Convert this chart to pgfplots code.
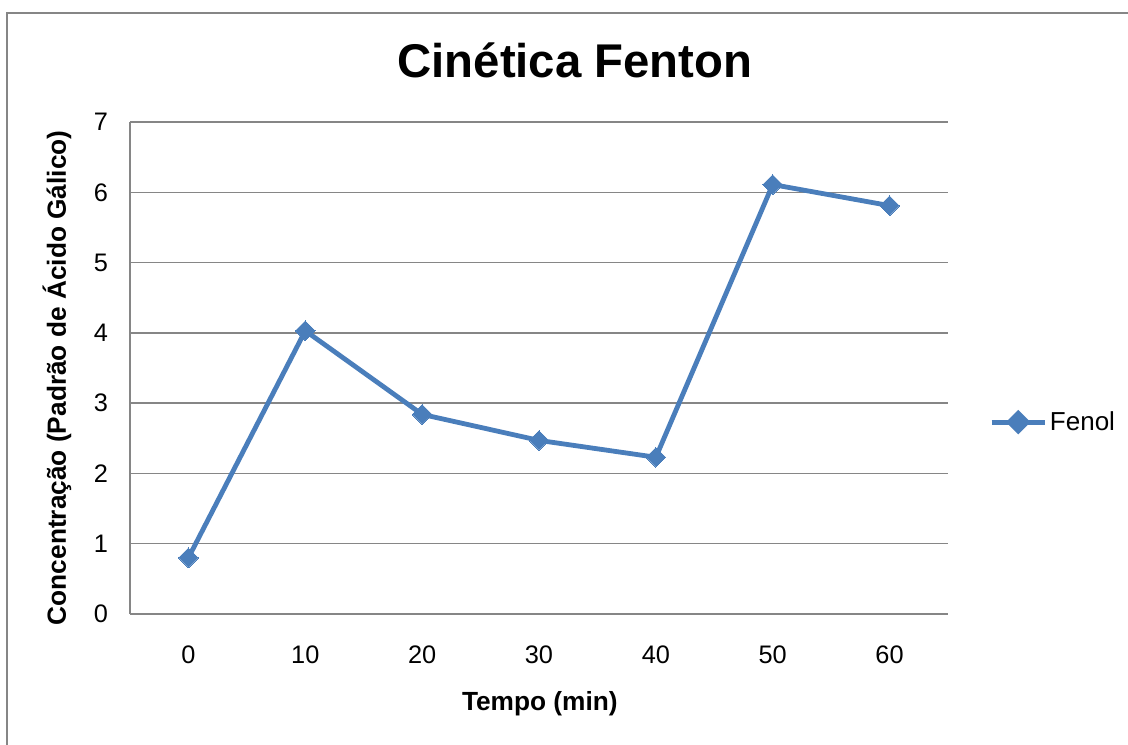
\documentclass[border=0pt]{standalone}
\usepackage{pgfplots}
\pgfplotsset{compat=1.18}
\usepackage{fontspec}
\setmainfont{Liberation Sans}
\definecolor{serie}{HTML}{4A7EBB}
\definecolor{grade}{HTML}{868686}
\begin{document}
\begin{tikzpicture}
% chart frame
\draw[grade, line width=1pt] (5.25pt,549pt) rectangle (900pt,-30pt);
\begin{axis}[
  at={(97.5pt,98.25pt)}, anchor=south west,
  scale only axis, width=613.5pt, height=369pt,
  xmin=-0.5, xmax=6.5, ymin=0, ymax=7,
  xtick={0,...,6}, xticklabels={0,10,20,30,40,50,60},
  ytick={0,...,7},
  major tick length=0pt,
  ymajorgrids, grid style={grade, line width=1pt},
  axis line style={grade, line width=1pt},
  axis x line*=bottom, axis y line*=left,
  /pgf/number format/assume math mode=true,
  tick label style={font=\fontsize{19}{22}\selectfont, black},
  xticklabel style={yshift=-20.5pt},
  yticklabel style={xshift=-13pt},
  title={Cinética Fenton},
  title style={font=\fontsize{35.5}{40}\selectfont\bfseries, at={(axis description cs:0.544,1.110)}, anchor=center},
  xlabel={Tempo (min)},
  xlabel style={font=\fontsize{19.7}{23}\selectfont\bfseries, at={(axis description cs:0.501,-0.183)}, anchor=center},
  ylabel={Concentração (Padrão de Ácido Gálico)},
  ylabel style={font=\fontsize{19.7}{23}\selectfont\bfseries, at={(axis description cs:-0.0892,0.48)}, anchor=center, rotate=0},
  legend style={at={(axis description cs:1.050,0.39)}, anchor=west, draw=none, fill=none,
    font=\fontsize{19.5}{23}\selectfont, inner sep=0pt, cells={anchor=west}},
  legend cell align=left,
  legend image code/.code={\draw[mark repeat=2, mark phase=2, #1, mark options={scale=0.9, rotate=45}]
    plot coordinates {(0pt,0pt) (20pt,0pt) (40pt,0pt)};},
]
\addplot[serie, line width=3.6pt, mark=square*, mark size=5.2pt,
  mark options={rotate=45, solid, line width=0pt}]
  coordinates {(0,0.80) (1,4.03) (2,2.84) (3,2.47) (4,2.23) (5,6.11) (6,5.81)};
\addlegendentry{Fenol}
\end{axis}
\pgfresetboundingbox
\useasboundingbox (0,0) rectangle (846pt,558.75pt);
\end{tikzpicture}
\end{document}
